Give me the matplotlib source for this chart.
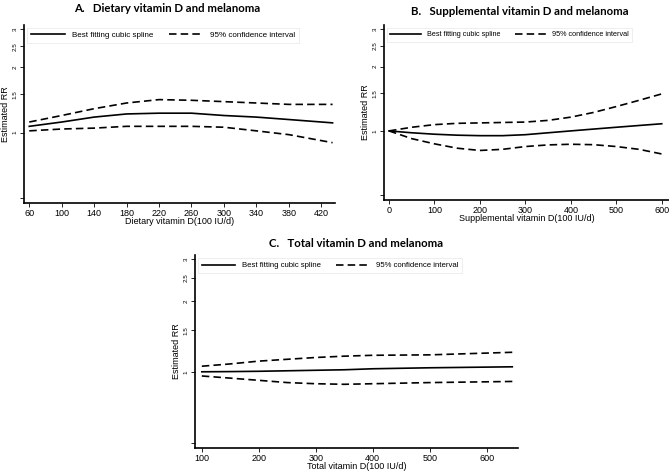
import matplotlib
matplotlib.use("Agg")
import matplotlib.pyplot as plt
from matplotlib.ticker import NullLocator

# panel A: dietary vitamin D
diet_x = [60, 100, 140, 180, 220, 260, 300, 340, 380, 434]
diet_rr = [1.07, 1.12, 1.18, 1.22, 1.23, 1.23, 1.20, 1.18, 1.15, 1.11]
diet_hi = [1.12, 1.20, 1.29, 1.37, 1.42, 1.41, 1.39, 1.37, 1.35, 1.35]
diet_lo = [1.02, 1.04, 1.05, 1.07, 1.07, 1.07, 1.06, 1.02, 0.98, 0.90]

# panel B: supplemental vitamin D
supp_x = [0, 50, 100, 150, 200, 250, 300, 350, 400, 450, 500, 550, 600]
supp_rr = [1.0, 0.98, 0.965, 0.955, 0.95, 0.95, 0.96, 0.98, 1.0, 1.02, 1.04, 1.06, 1.08]
supp_hi = [1.0, 1.04, 1.07, 1.085, 1.09, 1.095, 1.10, 1.12, 1.16, 1.22, 1.30, 1.39, 1.49]
supp_lo = [1.0, 0.92, 0.87, 0.83, 0.81, 0.82, 0.845, 0.86, 0.866, 0.862, 0.845, 0.82, 0.78]

# panel C: total vitamin D
total_x = [100, 150, 200, 250, 300, 350, 400, 500, 645]
total_rr = [1.0, 1.002, 1.005, 1.01, 1.015, 1.02, 1.03, 1.04, 1.05]
total_hi = [1.056, 1.08, 1.11, 1.13, 1.15, 1.165, 1.175, 1.18, 1.21]
total_lo = [0.96, 0.94, 0.92, 0.90, 0.89, 0.885, 0.89, 0.90, 0.91]

y_ticks = [0.5, 1, 1.5, 2, 2.5, 3]
y_labels = ["", "1", "1.5", "2", "2.5", "3"]

W, H = 669, 472
fig = plt.figure(figsize=(W / 100, H / 100), dpi=100)


def px_axes(left, top, right, bottom):
    return fig.add_axes([left / W, 1 - bottom / H, (right - left) / W, (bottom - top) / H])


def draw_panel(ax, x, rr, hi, lo, xlim, xticks, xlabel, title, leg_size, title_pad, title_x):
    ax.plot(x, rr, color="black", lw=1.2, label="Best fitting cubic spline")
    ax.plot(x, hi, color="black", lw=1.2, ls=(0, (4.5, 2.5)), label="95% confidence interval")
    ax.plot(x, lo, color="black", lw=1.2, ls=(0, (4.5, 2.5)))
    ax.set_yscale("log")
    ax.set_ylim(0.475, 3.13)
    ax.set_yticks(y_ticks)
    ax.set_yticklabels(y_labels, rotation=90, va="center", fontsize=4.5, family="Liberation Sans")
    ax.yaxis.set_minor_locator(NullLocator())
    ax.set_xlim(*xlim)
    ax.set_xticks(xticks)
    ax.set_xticklabels([str(t) for t in xticks], fontsize=6.5, family="Liberation Sans")
    ax.set_xlabel(xlabel, fontsize=6.5, family="Liberation Sans", labelpad=-1)
    ax.set_ylabel("Estimated RR", fontsize=6.5, family="Liberation Sans", labelpad=2)
    ax.tick_params(axis="both", length=3, width=0.6, pad=1.5)
    for s in ["top", "right"]:
        ax.spines[s].set_visible(False)
    for s in ["left", "bottom"]:
        ax.spines[s].set_linewidth(1.2)
    leg = ax.legend(loc="upper left", bbox_to_anchor=(0.01, 0.985), ncol=2, frameon=True,
                    fancybox=False, edgecolor="#e6e6e6",
                    prop={"family": "Liberation Sans", "size": leg_size},
                    handlelength=4.2, handletextpad=0.9, columnspacing=2.0,
                    borderpad=0.5, borderaxespad=0)
    leg.get_frame().set_linewidth(0.6)
    ax.set_title(title, fontsize=8.2, fontweight="bold", family="Lato", pad=title_pad, x=title_x)


axA = px_axes(24, 25, 335, 203)
draw_panel(axA, diet_x, diet_rr, diet_hi, diet_lo, (53.5, 437),
           [60, 100, 140, 180, 220, 260, 300, 340, 380, 420],
           "Dietary vitamin D(100 IU/d)", "A.   Dietary vitamin D and melanoma", 5.75, 9.5, 0.46)

axB = px_axes(384, 25, 669, 200)
draw_panel(axB, supp_x, supp_rr, supp_hi, supp_lo, (-11, 616),
           [0, 100, 200, 300, 400, 500, 600],
           "Supplemental vitamin D(100 IU/d)", "B.   Supplemental vitamin D and melanoma", 5.2, 7, 0.477)

axC = px_axes(195, 255, 518, 448)
draw_panel(axC, total_x, total_rr, total_hi, total_lo, (88, 655),
           [100, 200, 300, 400, 500, 600],
           "Total vitamin D(100 IU/d)", "C.   Total vitamin D and melanoma", 5.6, 6, 0.5)

fig.savefig("out.png", dpi=100)
